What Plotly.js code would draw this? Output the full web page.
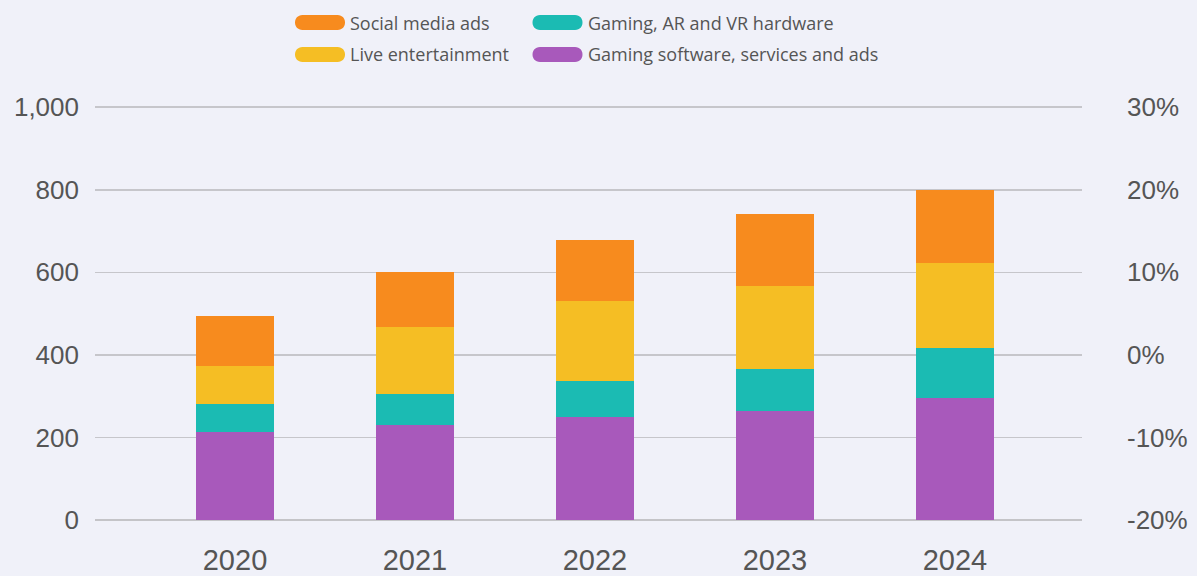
<!DOCTYPE html>
<html>
<head>
<meta charset="utf-8">
<script src="https://cdn.plot.ly/plotly-3.0.1.min.js"></script>
<style>
html,body{margin:0;padding:0;background:#f0f1f9;}
#chart{width:1197px;height:576px;}
</style>
</head>
<body>
<div id="chart"></div>
<script>
// ---- data ----
const years = ['2020', '2021', '2022', '2023', '2024'];
const gamingSoftware = [212, 229, 249, 265, 296];
const gamingHardware = [70, 77, 87, 101, 121];
const liveEntertainment = [92, 162, 195, 201, 206];
const socialMediaAds = [121, 132, 147, 174, 177];
const seriesNames = ['Gaming software, services and ads', 'Gaming, AR and VR hardware', 'Live entertainment', 'Social media ads'];
const seriesColors = ['#a859bb', '#1bbbb3', '#f5be24', '#f78b1e'];
const leftTicks = [0, 200, 400, 600, 800, 1000];
const leftTickText = ['0', '200', '400', '600', '800', '1,000'];
const rightTicks = [-20, -10, 0, 10, 20, 30];
const rightTickText = ['-20%', '-10%', '0%', '10%', '20%', '30%'];

// ---- layout constants ----
const W = 1197, H = 576;
const mL = 95, mR = 115, mT = 106, mB = 56;
const plotW = W - mL - mR, plotH = H - mT - mB;
const yTop = 1003;               // slightly above 1000 so the top gridline is drawn
const y2Top = -20 + 50 * yTop / 1000;
const fontFam = 'Liberation Sans, Arial, Helvetica, sans-serif';
const axisFont = {family: fontFam, size: 26, color: '#555555'};

const values = [gamingSoftware, gamingHardware, liveEntertainment, socialMediaAds];
const traces = values.map((v, i) => ({
  type: 'bar',
  x: years.map((_, k) => k),
  y: v,
  name: seriesNames[i],
  marker: {color: seriesColors[i], line: {width: 0}},
  width: 0.4333,
  showlegend: false,
  hoverinfo: 'x+y+name'
}));
// empty trace so the right-hand percentage axis is drawn
traces.push({type: 'scatter', x: [], y: [], yaxis: 'y2', showlegend: false, hoverinfo: 'skip'});

// custom legend (rounded swatches)
const px2x = px => (px - mL) / plotW;
const py2y = py => (H - mB - py) / plotH;
const legendItems = [
  {name: seriesNames[3], color: seriesColors[3], cx: 320, cy: 22.5, tx: 348},
  {name: seriesNames[1], color: seriesColors[1], cx: 557.5, cy: 22.5, tx: 586},
  {name: seriesNames[2], color: seriesColors[2], cx: 320, cy: 54.5, tx: 348},
  {name: seriesNames[0], color: seriesColors[0], cx: 557.5, cy: 54.5, tx: 586}
];
const pill = 'M-17.5,-7.5 L17.5,-7.5 C27.5,-7.5 27.5,7.5 17.5,7.5 L-17.5,7.5 C-27.5,7.5 -27.5,-7.5 -17.5,-7.5 Z';
const shapes = legendItems.map(it => ({
  type: 'path', xref: 'paper', yref: 'paper',
  xsizemode: 'pixel', ysizemode: 'pixel',
  xanchor: px2x(it.cx), yanchor: py2y(it.cy),
  path: pill, fillcolor: it.color, line: {width: 0}, layer: 'above'
}));
const annotations = legendItems.map(it => ({
  xref: 'paper', yref: 'paper', x: px2x(it.tx), y: py2y(it.cy),
  xanchor: 'left', yanchor: 'middle', showarrow: false,
  text: it.name,
  font: {family: 'Open Sans, Noto Sans, sans-serif', size: 18, color: '#555555'}
}));

const layout = {
  width: W, height: H,
  margin: {l: mL, r: mR, t: mT, b: mB, pad: 0},
  paper_bgcolor: '#f0f1f9',
  plot_bgcolor: '#f0f1f9',
  barmode: 'stack',
  showlegend: false,
  xaxis: {
    range: [-0.7778, 4.706],
    tickmode: 'array', tickvals: years.map((_, k) => k), ticktext: years,
    showgrid: false, zeroline: false, showline: false, ticks: '',
    tickfont: {family: fontFam, size: 29, color: '#555555'},
    ticklabelstandoff: 20,
    fixedrange: true
  },
  yaxis: {
    range: [0, yTop],
    tickmode: 'array', tickvals: leftTicks, ticktext: leftTickText,
    showgrid: true, gridcolor: '#c6c6cb', gridwidth: 1.5,
    zeroline: true, zerolinecolor: '#c4c4c8', zerolinewidth: 2.5,
    showline: false, ticks: '',
    tickfont: axisFont,
    ticklabelstandoff: 15,
    fixedrange: true
  },
  yaxis2: {
    overlaying: 'y', side: 'right', anchor: 'x',
    range: [-20, y2Top],
    tickmode: 'array', tickvals: rightTicks, ticktext: rightTickText,
    showgrid: false, zeroline: false, showline: false, ticks: '',
    tickfont: axisFont,
    ticklabelstandoff: 44,
    fixedrange: true
  },
  shapes: shapes,
  annotations: annotations
};

Plotly.newPlot('chart', traces, layout, {displayModeBar: false, staticPlot: true});
</script>
</body>
</html>
